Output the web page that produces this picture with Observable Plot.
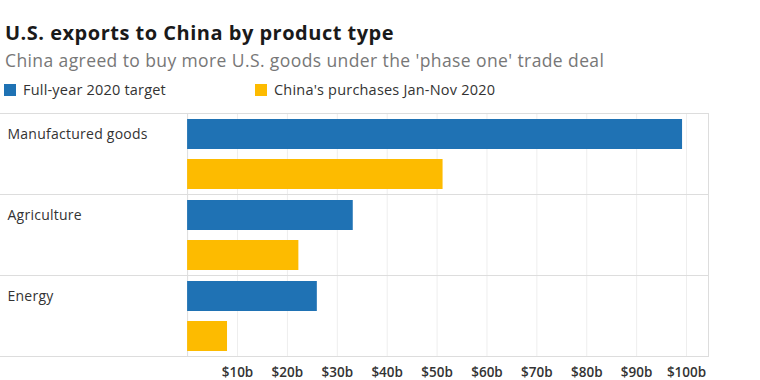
<!DOCTYPE html>
<html>
<head>
<meta charset="utf-8">
<script src="https://cdn.jsdelivr.net/npm/d3@7"></script>
<script src="https://cdn.jsdelivr.net/npm/@observablehq/plot@0.6"></script>
<style>
  html, body { margin: 0; padding: 0; background: #fff; }
  #wrap { position: relative; width: 760px; height: 380px; font-family: "Open Sans", Lato, sans-serif; overflow: hidden; }
  .abs { position: absolute; left: 5px; line-height: 1; white-space: nowrap; }
  #title { top: 23px; font-size: 20px; font-weight: 700; color: #1a1a1a; letter-spacing: 0.5px; }
  #subtitle { top: 51.5px; font-size: 17.5px; color: #777; letter-spacing: 0.4px; }
  .leg { position: absolute; top: 83px; font-size: 14.5px; color: #333; line-height: 1; white-space: nowrap; letter-spacing: 0.2px; }
  .sw { position: absolute; width: 12px; height: 12px; top: 84px; }
  #chart { position: absolute; left: 0; top: 105px; }
  #chart g[aria-label^="x-axis"] text { font-weight: 600; fill: #333; font-size: 13.5px; }
  #chart g[aria-label="text"] text { letter-spacing: 0.25px; }
</style>
</head>
<body>
<div id="wrap">
  <div id="title" class="abs">U.S. exports to China by product type</div>
  <div id="subtitle" class="abs">China agreed to buy more U.S. goods under the 'phase one' trade deal</div>
  <div id="sw0" class="sw" style="left:4px"></div>
  <div id="leg0" class="leg" style="left:23px"></div>
  <div id="sw1" class="sw" style="left:255px"></div>
  <div id="leg1" class="leg" style="left:274px"></div>
  <div id="chart"></div>
</div>
<script>
const categories = ["Manufactured goods", "Agriculture", "Energy"];
const series = ["Full-year 2020 target", "China's purchases Jan-Nov 2020"];
const targetValues = [99.2, 33.2, 26.0];
const purchaseValues = [51.2, 22.3, 8.0];
const colors = ["#1f72b4", "#fdbb00"];
const xTicks = [10, 20, 30, 40, 50, 60, 70, 80, 90, 100];

const data = [];
categories.forEach((c, i) => {
  data.push({category: c, series: series[0], value: targetValues[i]});
  data.push({category: c, series: series[1], value: purchaseValues[i]});
});

document.getElementById("sw0").style.background = colors[0];
document.getElementById("sw1").style.background = colors[1];
document.getElementById("leg0").textContent = series[0];
document.getElementById("leg1").textContent = series[1];

const chart = Plot.plot({
  width: 760,
  height: 275,
  marginTop: 7,
  marginBottom: 24,
  marginLeft: 0,
  marginRight: 52,
  style: {fontFamily: "'Open Sans', Lato, sans-serif", fontSize: "13.5px", color: "#333", background: "transparent"},
  facet: {data, y: "category"},
  fy: {domain: categories, padding: 0, axis: null, label: null},
  y: {domain: series, paddingInner: 0.26, paddingOuter: 0.13, axis: null, label: null},
  x: {domain: [-37.5, 104.4], ticks: xTicks, tickFormat: d => `$${d}b`, tickSize: 0, tickPadding: 11, label: null},
  color: {domain: series, range: colors},
  marks: [
    Plot.ruleX(xTicks, {stroke: "#eeeeee"}),
    Plot.ruleX([0], {stroke: "#dddddd"}),
    Plot.frame({stroke: "#dddddd", insetLeft: -3}),
    Plot.barX(data, {x: "value", y: "series", fill: "series"}),
    Plot.text(data, {
      filter: d => d.series === series[0],
      y: "series",
      text: "category",
      frameAnchor: "left",
      dx: 7,
      textAnchor: "start",
      fill: "#333",
      fontSize: 14
    })
  ]
});
document.getElementById("chart").appendChild(chart);
</script>
</body>
</html>
